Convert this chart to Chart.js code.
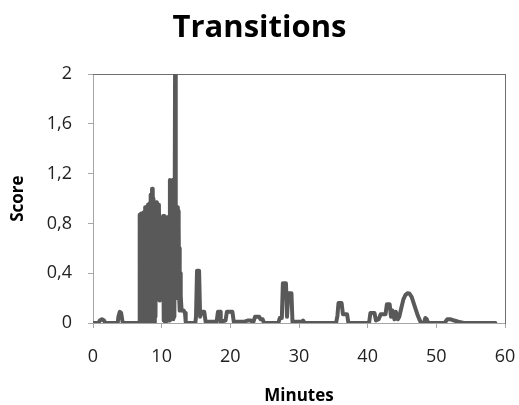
<!DOCTYPE html>
<html>
<head>
<meta charset="utf-8">
<script src="https://cdn.jsdelivr.net/npm/chart.js@4/dist/chart.umd.min.js"></script>
<style>
    html, body { margin: 0; padding: 0; background: #ffffff; }
    #wrap { width: 519px; height: 405px; }
</style>
</head>
<body>
<div id="wrap"><canvas id="chart" width="519" height="405"></canvas></div>
<script>

// time in minutes
const minutes = [
    0.0, 0.8, 1.0, 1.3, 1.6, 1.8, 3.6, 3.7, 3.9, 4.1, 4.3, 4.5, 6.6, 6.7,
    6.8, 6.9, 7.0, 7.1, 7.2, 7.3, 7.4, 7.5, 7.6, 7.7, 7.8, 7.9, 8.0, 8.1, 8.2, 8.3,
    8.4, 8.5, 8.6, 8.7, 8.8, 8.9, 9.0, 9.1, 9.2, 9.3, 9.4, 9.5, 9.6, 9.7, 9.8, 9.9,
    10.0, 10.1, 10.2, 10.3, 10.4, 10.5, 10.6, 10.7, 10.8, 10.9, 11.0, 11.1, 11.2, 11.3,
    11.4, 11.5, 11.6, 11.7, 11.8, 11.85, 11.95, 12.05, 12.15, 12.2, 12.3, 12.35, 12.4,
    12.45, 12.5, 12.55, 12.6, 12.65, 12.7, 12.75, 12.8, 12.9, 13.0, 13.2, 13.4, 13.5, 13.7,
    14.9, 15.0, 15.15, 15.45, 15.6, 15.8, 16.2, 16.4, 18.0, 18.2, 18.5, 18.6,
    19.3, 19.5, 20.3, 20.5, 22.0, 22.5, 23.0, 23.3, 23.6, 24.2, 24.4, 24.7, 24.9,
    27.0, 27.2, 27.5, 27.65, 28.1, 28.25, 28.45, 28.9, 29.05, 30.4, 30.6, 30.8,
    35.4, 35.6, 35.75, 36.2, 36.4, 37.0, 37.2, 40.2, 40.4, 41.0, 41.2, 41.6, 41.9,
    42.6, 42.8, 43.2, 43.4, 43.6, 43.9, 44.1, 44.4, 44.6, 44.9, 45.2, 45.5, 45.8,
    46.1, 46.4, 46.7, 47.0, 47.3, 47.6, 47.8, 48.2, 48.4, 48.6, 48.8,
    51.2, 51.6, 52.1, 52.6, 53.2, 54.0, 58.6
];

const score = [
    0, 0, 0.02, 0.03, 0.02, 0, 0, 0.05, 0.09, 0.08, 0.01, 0, 0, 0,
    0.87, 0, 0.88, 0.02, 0.88, 0, 0.89, 0.05, 0.93, 0, 0.93, 0.03, 0.95, 0, 0.96, 0.04,
    1.03, 0, 1.08, 0.02, 1.0, 0, 0.97, 0.05, 0.97, 0.19, 0.95, 0.2, 0.95, 0.18, 0.8, 0.2,
    0.75, 0.19, 0.86, 0.02, 0.86, 0, 0.85, 0.19, 0.85, 0.02, 0.72, 0.02, 1.15, 0.2,
    1.14, 0.19, 1.15, 0.03, 1.13, 0.05, 2.0, 0.2, 0.93, 0.2, 0.93, 0.2, 0.9,
    0.2, 0.78, 0.2, 0.6, 0.1, 0.4, 0.1, 0.22, 0.1, 0.1, 0.1, 0.08, 0.01, 0,
    0, 0.05, 0.42, 0.42, 0.05, 0.09, 0.09, 0.01, 0.01, 0.09, 0.09, 0.01,
    0.02, 0.09, 0.09, 0.01, 0.01, 0.02, 0.02, 0, 0.05, 0.05, 0.03, 0.03, 0,
    0, 0.04, 0.04, 0.32, 0.32, 0.05, 0.24, 0.24, 0.01, 0.01, 0.02, 0,
    0, 0.06, 0.16, 0.16, 0.07, 0.07, 0, 0, 0.08, 0.08, 0.02, 0.03, 0.07,
    0.07, 0.15, 0.15, 0.05, 0.1, 0.03, 0.09, 0.03, 0.05, 0.12, 0.19, 0.225, 0.24,
    0.235, 0.21, 0.16, 0.11, 0.06, 0.02, 0, 0, 0.04, 0.03, 0,
    0, 0.03, 0.03, 0.02, 0.01, 0, 0
];

const xTickLabels = ['0', '10', '20', '30', '40', '50', '60'];
const yTickLabels = ['0', '0,4', '0,8', '1,2', '1,6', '2'];

const FONT = "'Open Sans', 'DejaVu Sans', sans-serif";
const AXIS_GREY = '#a6a6a6';
const FRAME_GREY = '#6e6e6e';


const ctx = document.getElementById('chart').getContext('2d');

new Chart(ctx, {

    type: 'line',

    data: {
        datasets: [{
            label: 'Transitions',
            data: minutes.map((m, i) => ({ x: m, y: score[i] })),
            borderColor: '#595959',
            borderWidth: 4,
            borderJoinStyle: 'round',
            borderCapStyle: 'round',
            pointRadius: 0,
            tension: 0,
            fill: false
        }]
    },

    options: {

        responsive: false,
        animation: false,
        devicePixelRatio: 1,

        layout: {
            padding: 0
        },

        plugins: {
            legend: { display: false },
            tooltip: { enabled: false },
            title: {
                display: true,
                text: 'Transitions',
                color: '#000000',
                font: { family: FONT, size: 31, weight: 'bold', lineHeight: 1.2 },
                padding: { top: 10, bottom: 27 }
            }
        },

        scales: {

            x: {
                type: 'linear',
                position: 'bottom',
                min: 0,
                max: 60,
                ticks: {
                    stepSize: 10,
                    color: '#222222',
                    font: { family: FONT, size: 18 },
                    padding: 18,
                    maxRotation: 0,
                    callback: (v, i) => xTickLabels[i]
                },
                grid: {
                    display: true,
                    drawOnChartArea: false,
                    drawTicks: true,
                    tickLength: 5,
                    color: AXIS_GREY
                },
                border: { display: true, color: AXIS_GREY, width: 1 },
                title: {
                    display: true,
                    text: 'Minutes',
                    color: '#000000',
                    font: { family: FONT, size: 17, weight: 'bold', lineHeight: 1 },
                    padding: { top: 0, bottom: 0 }
                },
                afterFit: scale => {
                    scale.height = 82;
                    scale.paddingLeft = 0;
                    scale.paddingRight = 14;
                }
            },

            y: {
                type: 'linear',
                position: 'left',
                min: 0,
                max: 2,
                ticks: {
                    stepSize: 0.4,
                    color: '#222222',
                    font: { family: FONT, size: 18 },
                    padding: 16,
                    callback: (v, i) => yTickLabels[i]
                },
                grid: {
                    display: true,
                    drawOnChartArea: false,
                    drawTicks: true,
                    tickLength: 5,
                    color: AXIS_GREY
                },
                border: { display: true, color: AXIS_GREY, width: 1 },
                title: {
                    display: true,
                    text: 'Score',
                    color: '#000000',
                    font: { family: FONT, size: 17, weight: 'bold', lineHeight: 1 },
                    padding: { top: 10, bottom: 0 }
                },
                afterFit: scale => { scale.width = 93; }
            },

            // frame lines on top and right of the plot area
            xTop: {
                axis: 'x',
                type: 'linear',
                position: 'top',
                min: 0,
                max: 60,
                ticks: { display: false },
                grid: { display: false },
                border: { display: true, color: FRAME_GREY, width: 1 },
                afterFit: scale => { scale.height = 0; }
            },

            yRight: {
                axis: 'y',
                type: 'linear',
                position: 'right',
                min: 0,
                max: 2,
                ticks: { display: false },
                grid: { display: false },
                border: { display: true, color: FRAME_GREY, width: 1 },
                afterFit: scale => { scale.width = 0; }
            }
        }
    }
});

</script>
</body>
</html>
